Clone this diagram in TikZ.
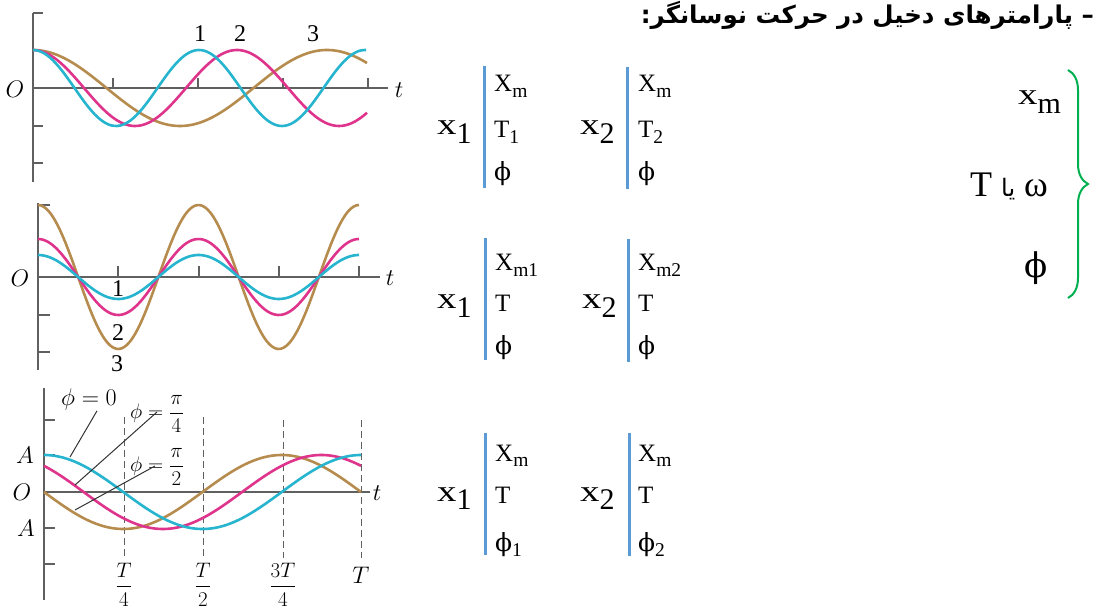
\documentclass[tikz,border=0pt]{standalone}
\usepackage{fix-cm}
\usepackage{amsmath}
\usepackage{fontspec}
\setmainfont{Liberation Serif}
\newfontfamily\farsifont[Script=Arabic]{DejaVu Sans}
\newfontfamily\greekserif{DejaVu Serif}
\TeXXeTstate=1
\usetikzlibrary{positioning,decorations.pathreplacing}
\definecolor{wavecyan}{RGB}{38,180,206}
\definecolor{wavepink}{RGB}{222,52,140}
\definecolor{wavebrown}{RGB}{182,140,78}
\definecolor{axisgray}{RGB}{96,96,96}
\definecolor{barblue}{RGB}{91,155,213}
\definecolor{bracegreen}{RGB}{0,176,80}
\newcommand{\lowidx}[1]{\raisebox{-.22em}{\scalebox{.78}{#1}}}
\newcommand{\bigidx}[1]{\raisebox{-.28em}{#1}}
\newcommand{\widex}{\scalebox{1.3}[1]{x}}
\newcommand{\phisym}{{\greekserif ϕ}}

\begin{document}
\begin{tikzpicture}[
  x=1pt,y=-1pt,
  axisline/.style={draw=axisgray,line width=1.6pt},
  tickmark/.style={draw=axisgray,line width=1.4pt},
  guide/.style={draw=axisgray,line width=1pt,dash pattern=on 7pt off 4pt},
  wave/.style={line width=2.6pt,smooth,samples=120},
  leader/.style={draw=black!80,line width=1pt},
  lbl/.style={font=\fontsize{24}{26}\selectfont,inner sep=0pt},
  fraclbl/.style={font=\fontsize{21}{23}\selectfont,inner sep=0pt},
  bigx/.style={font=\fontsize{30}{32}\selectfont,inner sep=0pt,anchor=base west},
  entry/.style={font=\fontsize{25}{27}\selectfont,inner sep=0pt,anchor=base west},
  bar/.style={draw=barblue,line width=3pt}
]
  \useasboundingbox (0,0) rectangle (1096,612);

  % first graph: same amplitude, different periods
  \draw[axisline] (33,13) -- (33,182);
  \draw[axisline] (33,88) -- (388,88);
  \draw[tickmark] (33,13) -- ++(10,0) (33,126) -- ++(10,0) (33,163) -- ++(10,0);
  \draw[tickmark] (113,88) -- ++(0,-10) (198,88) -- ++(0,-10) (283,88) -- ++(0,-10) (368,88) -- ++(0,-10);
  \draw[wave,draw=wavebrown] plot[domain=33:367] (\x,{88-38*cos((\x-33)/294*360)});
  \draw[wave,draw=wavepink] plot[domain=33:367] (\x,{88-38*cos((\x-33)/204*360)});
  \draw[wave,draw=wavecyan] plot[domain=33:366] (\x,{88-38*cos((\x-33)/166*360)});
  \node[lbl] (oa) at (15,89) {$O$};
  \node[lbl] (ta) at (399,90) {$t$};
  \node[lbl] (cura) at (200,34) {1};
  \node[lbl] (curb) at (240,34) {2};
  \node[lbl] (curc) at (313,34) {3};

  % second graph: same period, different amplitudes
  \draw[axisline] (38,203) -- (38,370);
  \draw[axisline] (38,277) -- (380,277);
  \draw[tickmark] (38,205) -- ++(12,0) (38,315) -- ++(12,0) (38,352) -- ++(12,0);
  \draw[tickmark] (118,277) -- ++(0,-11) (199,277) -- ++(0,-11) (279,277) -- ++(0,-11) (359,277) -- ++(0,-11);
  \draw[wave,draw=wavebrown] plot[domain=38:359] (\x,{277-72*cos((\x-38)/160.5*360)});
  \draw[wave,draw=wavepink] plot[domain=38:359] (\x,{277-38*cos((\x-38)/160.5*360)});
  \draw[wave,draw=wavecyan] plot[domain=38:359] (\x,{277-22*cos((\x-38)/160.5*360)});
  \node[lbl] (ob) at (20,278) {$O$};
  \node[lbl] (tb) at (390,278) {$t$};
  \node[lbl] (ampa) at (118,289) {1};
  \node[lbl] (ampb) at (118,333) {2};
  \node[lbl] (ampc) at (117,364) {3};

  % third graph: same period and amplitude, different phases
  \draw[guide] (124,417) -- (124,558);
  \draw[guide] (203,417) -- (203,558);
  \draw[guide] (283,420) -- (283,558);
  \draw[guide] (361,420) -- (361,558);
  \draw[axisline] (44,388) -- (44,600);
  \draw[axisline] (44,492) -- (370,492);
  \draw[tickmark] (44,420) -- ++(11,0) (44,455) -- ++(11,0) (44,528) -- ++(11,0) (44,564) -- ++(11,0);
  \draw[wave,draw=wavebrown] plot[domain=44:361] (\x,{492-37*cos((\x-44)/317*360+90)});
  \draw[wave,draw=wavepink] plot[domain=44:361] (\x,{492-37*cos((\x-44)/317*360+45)});
  \draw[wave,draw=wavecyan] plot[domain=44:361] (\x,{492-37*cos((\x-44)/317*360)});
  \node[lbl] (oc) at (22,492) {$O$};
  \node[lbl] (tc) at (377,493) {$t$};
  \node[lbl] (apos) at (25,455) {$A$};
  \node[lbl] (aneg) at (26,528) {$A$};
  \node[lbl] (phz) at (89,400) {$\phi=0$};
  \node[fraclbl,anchor=west] (phq) at (130,414) {$\phi=\dfrac{\pi}{4}$};
  \node[fraclbl,anchor=west] (phh) at (130,467) {$\phi=\dfrac{\pi}{2}$};
  \coordinate (endz) at (70,457);
  \coordinate (endq) at (75,485);
  \coordinate (endh) at (75,510);
  \draw[leader] ([xshift=8pt]phz.south) -- (endz);
  \draw[leader] ([xshift=27pt,yshift=2pt]phq.west) -- (endq);
  \draw[leader] ([xshift=25pt,yshift=1pt]phh.west) -- (endh);
  \node[fraclbl] (qa) at (124,585) {$\dfrac{T}{4}$};
  \node[fraclbl] (qb) at (203,585) {$\dfrac{T}{2}$};
  \node[fraclbl] (qc) at (283,585) {$\dfrac{3T}{4}$};
  \node[lbl] (qd) at (361,575) {$T$};

  % parameter columns
  \node[bigx] (xa) at (437,135) {\widex\bigidx{1}};
  \draw[bar] (484,66) -- (484,188);
  \node[entry] (xam) at (494,92) {X\lowidx{m}};
  \node[entry] (xat) at (494,138) {T\lowidx{1}};
  \node[entry] (xap) at (494,181) {\phisym};
  \node[bigx] (xb) at (580,135) {\widex\bigidx{2}};
  \draw[bar] (627,67) -- (627,189);
  \node[entry] (xbm) at (638,92) {X\lowidx{m}};
  \node[entry] (xbt) at (638,138) {T\lowidx{2}};
  \node[entry] (xbp) at (638,181) {\phisym};

  \node[bigx] (ya) at (437,309) {\widex\bigidx{1}};
  \draw[bar] (485,238) -- (485,360);
  \node[entry] (yam) at (495,271) {X\lowidx{m1}};
  \node[entry] (yat) at (495,312) {T};
  \node[entry] (yap) at (495,355) {\phisym};
  \node[bigx] (yb) at (582,309) {\widex\bigidx{2}};
  \draw[bar] (628,239) -- (628,362);
  \node[entry] (ybm) at (638,271) {X\lowidx{m2}};
  \node[entry] (ybt) at (638,312) {T};
  \node[entry] (ybp) at (638,355) {\phisym};

  \node[bigx] (za) at (437,501) {\widex\bigidx{1}};
  \draw[bar] (485,433) -- (485,555);
  \node[entry] (zam) at (495,461) {X\lowidx{m}};
  \node[entry] (zat) at (495,503) {T};
  \node[entry] (zap) at (495,551) {\phisym\lowidx{1}};
  \node[bigx] (zb) at (580,501) {\widex\bigidx{2}};
  \draw[bar] (629,433) -- (629,556);
  \node[entry] (zbm) at (638,461) {X\lowidx{m}};
  \node[entry] (zbt) at (638,503) {T};
  \node[entry] (zbp) at (638,551) {\phisym\lowidx{2}};

  % title and summary
  \node[anchor=base east,inner sep=0pt,font=\fontsize{24.5}{26}\selectfont\farsifont\bfseries] (title) at (1094,24) {\beginR – پارامترهای دخیل در حرکت نوسانگر:\endR};
  \node[bigx,font=\fontsize{30}{32}\selectfont] (pxm) at (1018,105) {\widex\bigidx{m}};
  \node[bigx,font=\fontsize{36}{38}\selectfont] (pt) at (970,197) {T {\farsifont\fontsize{24}{26}\selectfont\beginR یا\endR} ω};
  \node[bigx,font=\fontsize{34}{36}\selectfont] (pphi) at (1024,278) {\phisym};
  \draw[bracegreen,line width=2pt,decorate,decoration={brace,amplitude=20pt}] (1068,70) -- (1068,298);
\end{tikzpicture}
\end{document}
